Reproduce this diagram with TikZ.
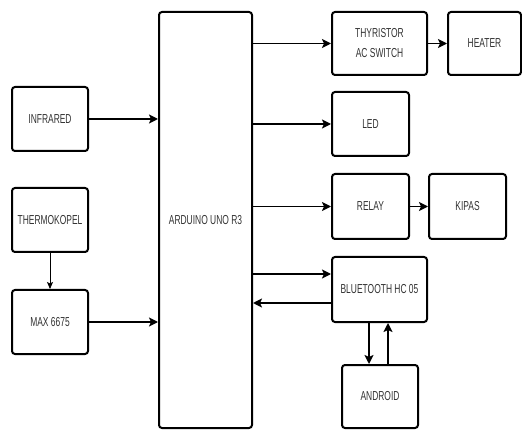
\documentclass[tikz,border=0pt]{standalone}
\usepackage{fontspec}
\usepackage{tikz}
\usetikzlibrary{positioning}
\usetikzlibrary{arrows.meta}
\newfontfamily\blockfont[FakeStretch=0.65]{Liberation Sans}
\definecolor{labelgray}{gray}{0.2}
\tikzset {
  % rounded block for each module
  block/.style = {draw, line width=2pt, rounded corners=3pt, inner sep=0pt,
    text=labelgray, align=center,
    font=\blockfont\fontsize{13}{20}\selectfont},
  % signal arrows
  arr/.style = {line width=1.6pt, -{Stealth[length=9pt,width=9pt,inset=2pt]}},
  thin arr/.style = {line width=0.8pt, -{Stealth[length=7pt,width=6pt,inset=1.5pt]}},
}
\begin{document}
\begin{tikzpicture}[x=1pt, y=-1pt]
        \useasboundingbox (0,0) rectangle (522,430);
        % main board
        \node[block, minimum width=93pt, minimum height=416pt] (arduino) at (205.5,220) {ARDUINO UNO R3};

        % inputs
        \node[block, minimum width=76pt, minimum height=64pt] (infra) at (50,119) {INFRARED};
        \node[block, minimum width=76pt, minimum height=64pt] (thermo) at (50,220) {THERMOKOPEL};
        \node[block, minimum width=76pt, minimum height=64pt] (max) at (50,322) {MAX 6675};

        % outputs
        \node[block, minimum width=95pt, minimum height=63pt] (thyr) at (379.5,43.5) {THYRISTOR\\AC SWITCH};
        \node[block, minimum width=73pt, minimum height=63pt] (heater) at (484.5,43.5) {HEATER};
        \node[block, minimum width=77pt, minimum height=64pt] (led) at (370.5,124) {LED};
        \node[block, minimum width=77pt, minimum height=65pt] (relay) at (370.5,206.5) {RELAY};
        \node[block, minimum width=77pt, minimum height=65pt] (kipas) at (467.5,206.5) {KIPAS};
        \node[block, minimum width=95pt, minimum height=65pt] (bt) at (379.5,289.5) {BLUETOOTH HC 05};
        \node[block, minimum width=76pt, minimum height=63pt] (android) at (380,396.5) {ANDROID};

        \draw[arr] (infra.east) -- (infra.east -| arduino.west);
        \draw[thin arr] (thermo.south) -- (max.north);
        \draw[arr] (max.east) -- (max.east -| arduino.west);

        \draw[arr] (thyr.west -| arduino.east) -- (thyr.west);
        \draw[arr] (thyr.east) -- (heater.west);
        \draw[arr] (led.west -| arduino.east) -- (led.west);
        \draw[arr] (relay.west -| arduino.east) -- (relay.west);
        \draw[arr] (relay.east) -- (kipas.west);
        \draw[arr] ([yshift=15.5pt]bt.west -| arduino.east) -- ([yshift=15.5pt]bt.west);
        \draw[arr] ([yshift=-13.5pt]bt.west) -- ([yshift=-13.5pt]bt.west -| arduino.east);
        \draw[arr] ([xshift=-10.5pt]bt.south) -- ([xshift=-10.5pt]bt.south |- android.north);
        \draw[arr] ([xshift=8.5pt]bt.south |- android.north) -- ([xshift=8.5pt]bt.south);
      \end{tikzpicture}
\end{document}
